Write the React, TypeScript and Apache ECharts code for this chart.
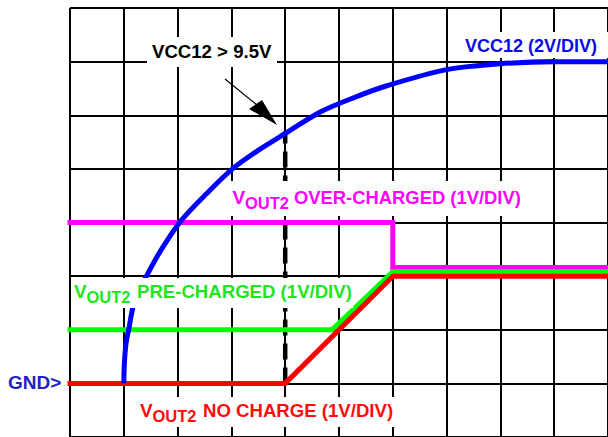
import React, { useEffect, useRef } from "react";
import * as echarts from "echarts";

// Oscilloscope divisions (10 horizontal x 8 vertical)
const xRange = [0, 10];
const yRange = [0, 8];

// VCC12 trace (2V/DIV), in divisions
const vcc12 = [
  [1.0, 1.0], [1.01, 1.36], [1.04, 1.73], [1.1, 2.05], [1.17, 2.42],
  [1.28, 2.72], [1.42, 3.0], [1.7, 3.5], [2.07, 4.04], [2.54, 4.54],
  [3.02, 5.0], [3.52, 5.36], [4.0, 5.66], [4.67, 6.07], [5.28, 6.33],
  [5.89, 6.55], [7.0, 6.85], [8.0, 6.96], [9.0, 7.0], [10.0, 7.0],
];
// VOUT2 traces (1V/DIV)
const vout2Over = [[0, 4], [6, 4], [6, 3.16], [10, 3.16]];
const vout2Pre = [[0, 2], [4.87, 2], [6, 3.08], [10, 3.08]];
const vout2None = [[0, 1], [4, 1], [6, 3], [10, 3]];
// VCC12 > 9.5V threshold marker
const threshold = [[4, 1], [4, 5.7]];

const FONT = '"Liberation Sans", Arial, sans-serif';

function txt(x: number, y: number, text: string, fill: string, size: number) {
  return {
    type: "text",
    z: 6,
    style: {
      x, y, text, fill,
      fontSize: size, fontWeight: "bold", fontFamily: FONT,
      align: "left", verticalAlign: "middle",
    },
  };
}
function box(x: number, y: number, w: number, h: number, z = 5) {
  return { type: "rect", z, shape: { x, y, width: w, height: h }, style: { fill: "#ffffff" } };
}

export default function App() {
  const ref = useRef<HTMLDivElement>(null);
  useEffect(() => {
    if (!ref.current) return;
    const chart = echarts.init(ref.current, null, { renderer: "svg" });
    const axisCommon = {
      type: "value",
      interval: 1,
      axisLabel: { show: false },
      axisTick: { show: false },
      axisLine: { show: false },
      splitLine: { show: true, lineStyle: { color: "#000", width: 2 } },
      z: 0,
    };
    const lineSeries = (data: number[][], color: string, extra: any = {}) => ({
      type: "line",
      data,
      symbol: "none",
      showSymbol: false,
      clip: false,
      animation: false,
      lineStyle: { color, width: 5, cap: "square", join: "miter" },
      z: 2,
      ...extra,
    });
    chart.setOption({
      animation: false,
      backgroundColor: "#ffffff",
      grid: { left: 70, top: 8, width: 540, height: 430 },
      xAxis: { ...axisCommon, min: xRange[0], max: xRange[1] },
      yAxis: { ...axisCommon, min: yRange[0], max: yRange[1] },
      series: [
        lineSeries(threshold, "#000000", {
          lineStyle: { color: "#000", width: 4.5, type: [16, 8], cap: "butt" },
        }),
        lineSeries(vout2Over, "#ff00ff"),
        lineSeries(vout2Pre, "#00ff00"),
        lineSeries(vout2None, "#ff0000"),
        lineSeries(vcc12, "#0000ff", {
          smooth: 0.3,
          lineStyle: { color: "#0000ff", width: 5, cap: "butt" },
        }),
      ],
      graphic: [
        box(460, 32, 150, 26, 1),
        box(147, 37, 130, 30),
        box(228, 181, 300, 35),
        box(72, 278, 281, 30),
        box(136, 397, 260, 30),
        { type: "line", z: 6, shape: { x1: 225, y1: 79, x2: 257, y2: 105 }, style: { stroke: "#000", lineWidth: 1.2 } },
        { type: "polygon", z: 6, shape: { points: [[249, 109], [262, 100], [277, 125]] }, style: { fill: "#000" } },
        txt(152, 51, "VCC12 > 9.5V", "#000000", 18.6),
        txt(465, 46, "VCC12 (2V/DIV)", "#0a0ae6", 18),
        txt(232.5, 197, "V", "#ff00ff", 19),
        txt(245, 203, "OUT2", "#ff00ff", 16.5),
        txt(294, 197.5, "OVER-CHARGED (1V/DIV)", "#ff00ff", 18.4),
        txt(74, 291, "V", "#1ee61e", 19),
        txt(86.5, 297, "OUT2", "#1ee61e", 16.5),
        txt(137, 291.5, "PRE-CHARGED (1V/DIV)", "#1ee61e", 18.6),
        txt(140, 410, "V", "#ff0d0d", 19),
        txt(152.5, 415.5, "OUT2", "#ff0d0d", 16.5),
        txt(203, 410.5, "NO CHARGE (1V/DIV)", "#ff0d0d", 18.6),
        txt(8, 382, "GND>", "#2222c4", 19),
      ],
    });
    return () => chart.dispose();
  }, []);
  return (
    <div
      ref={ref}
      style={{ position: "absolute", left: 0, top: 0, width: 608, height: 437 }}
    />
  );
}
